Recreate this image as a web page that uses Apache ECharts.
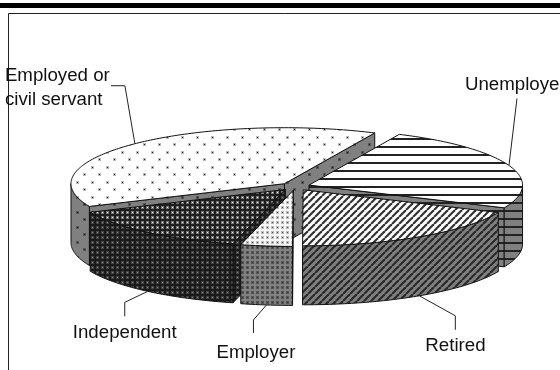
<!DOCTYPE html>
<html>
<head>
<meta charset="utf-8">
<style>
  html, body { margin: 0; padding: 0; background: #fff; }
  #chart { width: 560px; height: 370px; }
</style>
<script src="https://cdn.jsdelivr.net/npm/echarts@6/dist/echarts.min.js"></script>
</head>
<body>
<div id="chart"></div>
<script>
// slices clockwise from the back of the pie, in percent
const categories = ['Unemployed', 'Retired', 'Employer', 'Independent', 'Employed or\ncivil servant']
const shares = [24.7, 18.4, 3.9, 14.4, 38.6]

const startAngle = 65
const cx = 295, cy = 186.5, rx = 213.5, ry = 56, depth = 59, explode = 15

function pattern (w, h, bg, draw) {
  const c = document.createElement('canvas')
  c.width = w
  c.height = h
  const g = c.getContext('2d')
  g.fillStyle = bg
  g.fillRect(0, 0, w, h)
  draw(g)
  return { image: c, repeat: 'repeat' }
}
// soft 3px dot with a darker or brighter middle, the scan of the original blurs them like this
function dots (bg, halo, core, w, h, pts) {
  return pattern(w, h, bg, g => {
    pts.forEach(p => {
      g.fillStyle = halo
      g.fillRect(p[0], p[1], 3, 3)
      g.fillStyle = core
      g.fillRect(p[0] + 1, p[1] + 1, 1, 1)
    })
  })
}
function stripes (bg, ink) {
  return pattern(7, 7, bg, g => {
    g.strokeStyle = ink
    g.lineWidth = 2.2
    for (let i = -7; i <= 14; i += 7) {
      g.beginPath()
      g.moveTo(i, 7)
      g.lineTo(i + 7, 0)
      g.stroke()
    }
  })
}
function rows (bg, ink) {
  return pattern(8, 8, bg, g => {
    g.fillStyle = ink
    g.fillRect(0, 2, 8, 2)
  })
}

const looseDots = [[1, 1], [8, 8]]
const fineDots = [[1, 1]]
const fills = [
  { top: rows('#fff', '#222'), side: rows('#808080', '#222') },
  { top: stripes('#fff', '#333'), side: stripes('#808080', '#2a2a2a') },
  { top: dots('#f6f6f6', '#bbb', '#555', 5, 5, fineDots), side: dots('#808080', '#555', '#333', 5, 5, fineDots) },
  { top: dots('#1e1e1e', '#777', '#eee', 5, 5, fineDots), side: dots('#1a1a1a', '#444', '#888', 5, 5, fineDots) },
  { top: dots('#fff', '#bbb', '#222', 15, 15, looseDots), side: dots('#808080', '#555', '#222', 15, 15, looseDots) }
]

// leader line bends and label spot, relative to where the line leaves the slice
const leaders = [
  { bends: [[8, -67]], text: [-44, -92.5] },
  { bends: [[36, 20], [36, 34]], text: [6, 38] },
  { bends: [[-13, 15], [-13, 28]], text: [-50, 36] },
  { bends: [[-23, 11], [-23, 25]], text: [-75, 30] },
  { bends: [[-10, -58], [-24, -58]], text: [-130, -80] }
]

const total = shares.reduce((a, b) => a + b, 0)
let run = startAngle
const slices = shares.map((v, i) => {
  const from = run
  const to = run - v / total * 360
  run = to
  const mid = (from + to) / 2 * Math.PI / 180
  return {
    i, from, to, mid,
    x: cx + explode * Math.cos(mid),
    y: cy - explode * ry / rx * Math.sin(mid)
  }
})
// back slices get painted first
const paintOrder = slices.slice().sort((a, b) => Math.sin(b.mid) - Math.sin(a.mid)).map(s => s.i)

function rim (s, deg, drop) {
  const t = deg * Math.PI / 180
  return [s.x + rx * Math.cos(t), s.y - ry * Math.sin(t) + (drop || 0)]
}

function renderSlice (params, api) {
  const s = slices[api.value(0)]
  const line = { stroke: '#111', lineWidth: 1 }
  const children = []
  const face = (points, fill) => children.push({ type: 'polygon', shape: { points }, style: Object.assign({ fill }, line) })

  // cut faces, only when they turn towards us
  if (Math.cos(s.from * Math.PI / 180) < 0) {
    face([[s.x, s.y], rim(s, s.from), rim(s, s.from, depth), [s.x, s.y + depth]], fills[s.i].side)
  }
  if (Math.cos(s.to * Math.PI / 180) > 0.01) {
    face([[s.x, s.y], rim(s, s.to), rim(s, s.to, depth), [s.x, s.y + depth]], fills[s.i].side)
  }

  // outer wall, front half only
  const steps = []
  for (let d = s.from; d > s.to; d -= 1) steps.push(d)
  steps.push(s.to)
  const wallTop = [], wallBottom = []
  steps.filter(d => Math.sin(d * Math.PI / 180) <= 0.001).forEach(d => {
    wallTop.push(rim(s, d))
    wallBottom.unshift(rim(s, d, depth))
  })
  if (wallTop.length > 1) face(wallTop.concat(wallBottom), fills[s.i].side)

  // top
  face([[s.x, s.y]].concat(steps.map(d => rim(s, d))), fills[s.i].top)

  return { type: 'group', children }
}

function renderLabel (params, api) {
  const s = slices[api.value(0)]
  const deg = s.mid * 180 / Math.PI
  const from = rim(s, deg, Math.sin(s.mid) < 0 ? depth : 0)
  const l = leaders[s.i]
  const pts = [from].concat(l.bends.map(b => [from[0] + b[0], from[1] + b[1]]))
  return {
    type: 'group',
    children: [
      { type: 'polyline', shape: { points: pts }, style: { fill: 'none', stroke: '#222', lineWidth: 1 } },
      {
        type: 'text',
        x: from[0] + l.text[0],
        y: from[1] + l.text[1],
        style: { text: categories[s.i], fill: '#111', font: '18.7px "Liberation Sans", Arial', textAlign: 'left', lineHeight: 24 }
      }
    ]
  }
}

const myChart = echarts.init(document.getElementById('chart'), null, { renderer: 'canvas' })
myChart.setOption({
  animation: false,
  graphic: [
    { type: 'rect', silent: true, shape: { x: 0, y: 3, width: 560, height: 5 }, style: { fill: '#000' } },
    { type: 'polyline', silent: true, shape: { points: [[8.5, 370], [8.5, 13.5], [560, 13.5]] }, style: { fill: 'none', stroke: '#222', lineWidth: 1 } }
  ],
  series: [
    {
      type: 'custom',
      coordinateSystem: 'none',
      silent: true,
      data: paintOrder.map(i => [i]),
      renderItem: renderSlice
    },
    {
      type: 'custom',
      coordinateSystem: 'none',
      silent: true,
      z: 3,
      data: paintOrder.map(i => [i]),
      renderItem: renderLabel
    }
  ]
})
</script>
</body>
</html>
